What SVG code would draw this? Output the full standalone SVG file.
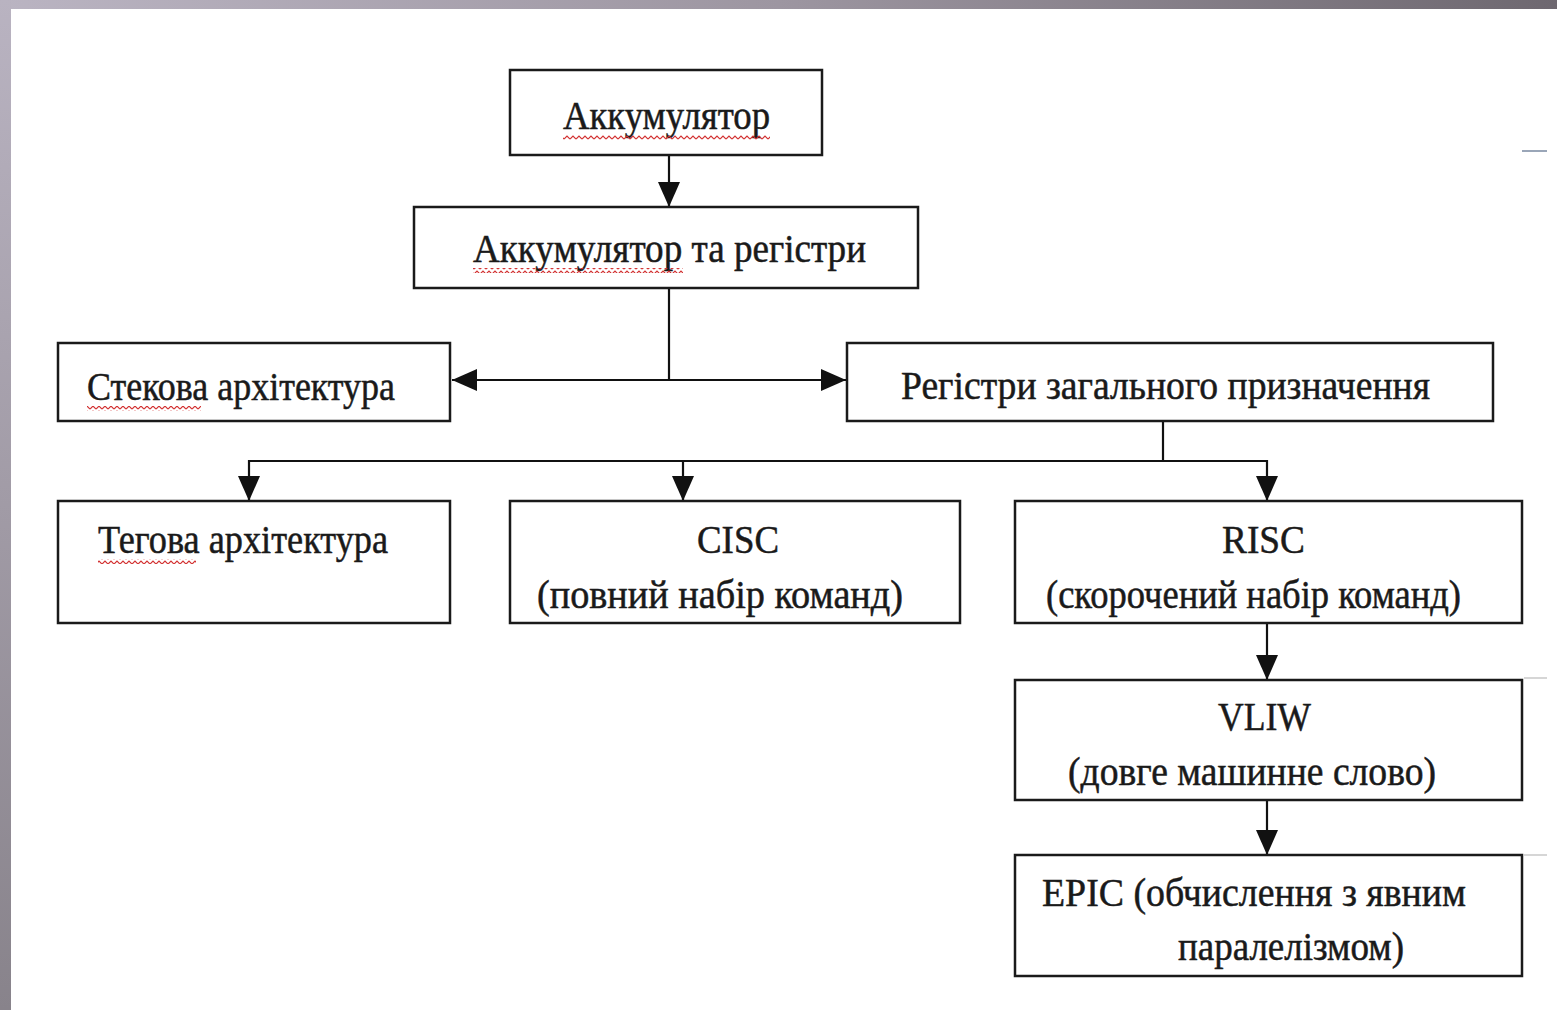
<svg xmlns="http://www.w3.org/2000/svg" width="1557" height="1010" viewBox="0 0 1557 1010">
  <defs>
    <linearGradient id="gTop" x1="0" y1="0" x2="1" y2="0">
      <stop offset="0" stop-color="#bab4c2"/>
      <stop offset="0.5" stop-color="#9d96a1"/>
      <stop offset="1" stop-color="#6e6870"/>
    </linearGradient>
    <linearGradient id="gLeft" x1="0" y1="0" x2="0" y2="1">
      <stop offset="0" stop-color="#b9b3c1"/>
      <stop offset="0.5" stop-color="#a19ba6"/>
      <stop offset="1" stop-color="#88838b"/>
    </linearGradient>
    <pattern id="wavePat" patternUnits="userSpaceOnUse" width="6" height="5">
      <path d="M0,4 L3,1 L6,4" fill="none" stroke="#d23030" stroke-width="1.2"/>
    </pattern>
    <marker id="arr" markerUnits="userSpaceOnUse" markerWidth="26" markerHeight="24" refX="25" refY="12" orient="auto">
      <path d="M0,1 L25,12 L0,23 Z" fill="#111"/>
    </marker>
    <style>
      .box { fill: #fff; stroke: #1a1a1a; stroke-width: 2.5; }
      .lbl { font-family: "Liberation Serif", "Times New Roman", serif; font-size: 39px; fill: #1a1a1a; stroke: #1a1a1a; stroke-width: 0.5; }
      .ln { fill: none; stroke: #111; stroke-width: 2.2; }
      .wave { fill: url(#wavePat); }
    </style>
  </defs>

  <rect x="0" y="0" width="1557" height="1010" fill="#fff"/>
  <rect x="0" y="0" width="1557" height="9" fill="url(#gTop)"/>
  <rect x="0" y="0" width="11" height="1010" fill="url(#gLeft)"/>
  <line x1="1522" y1="151" x2="1547" y2="151" stroke="#9aa6b8" stroke-width="2"/>
  <line x1="1524" y1="678" x2="1547" y2="678" stroke="#c8c8c8" stroke-width="1.5"/>
  <line x1="1524" y1="855" x2="1547" y2="855" stroke="#c8c8c8" stroke-width="1.5"/>

  <g id="connectors">
    <line class="ln" x1="669" y1="155" x2="669" y2="207" marker-end="url(#arr)"/>
    <line class="ln" x1="669" y1="288" x2="669" y2="380"/>
    <line class="ln" x1="669" y1="380" x2="452" y2="380" marker-end="url(#arr)"/>
    <line class="ln" x1="669" y1="380" x2="846" y2="380" marker-end="url(#arr)"/>
    <line class="ln" x1="1163" y1="421" x2="1163" y2="461"/>
    <polyline class="ln" points="249,461 1267,461"/>
    <line class="ln" x1="249" y1="460" x2="249" y2="501" marker-end="url(#arr)"/>
    <line class="ln" x1="683" y1="460" x2="683" y2="501" marker-end="url(#arr)"/>
    <line class="ln" x1="1267" y1="460" x2="1267" y2="501" marker-end="url(#arr)"/>
    <line class="ln" x1="1267" y1="623" x2="1267" y2="680" marker-end="url(#arr)"/>
    <line class="ln" x1="1267" y1="800" x2="1267" y2="855" marker-end="url(#arr)"/>
  </g>

  <g id="n-acc">
    <rect class="box" x="510" y="70" width="312" height="85"/>
    <text class="lbl" x="563" y="129" textLength="207" lengthAdjust="spacingAndGlyphs">Аккумулятор</text>
    <rect class="wave" x="563" y="135" width="207" height="5"/>
  </g>

  <g id="n-accreg">
    <rect class="box" x="414" y="207" width="504" height="81"/>
    <text class="lbl" x="473" y="262" textLength="393" lengthAdjust="spacingAndGlyphs">Аккумулятор та регістри</text>
    <rect class="wave" x="473" y="268" width="210" height="5"/>
  </g>

  <g id="n-stack">
    <rect class="box" x="58" y="343" width="392" height="78"/>
    <text class="lbl" x="87" y="400" textLength="308" lengthAdjust="spacingAndGlyphs">Стекова  архітектура</text>
    <rect class="wave" x="87" y="406" width="114" height="5"/>
  </g>

  <g id="n-gpr">
    <rect class="box" x="847" y="343" width="646" height="78"/>
    <text class="lbl" x="901" y="399" textLength="529" lengthAdjust="spacingAndGlyphs">Регістри загального  призначення</text>
  </g>

  <g id="n-tag">
    <rect class="box" x="58" y="501" width="392" height="122"/>
    <text class="lbl" x="98" y="553" textLength="290" lengthAdjust="spacingAndGlyphs">Тегова  архітектура</text>
    <rect class="wave" x="98" y="559" width="98" height="5"/>
  </g>

  <g id="n-cisc">
    <rect class="box" x="510" y="501" width="450" height="122"/>
    <text class="lbl" x="697" y="553" textLength="82" lengthAdjust="spacingAndGlyphs">CISC</text>
    <text class="lbl" x="537" y="608" textLength="366" lengthAdjust="spacingAndGlyphs">(повний набір команд)</text>
  </g>

  <g id="n-risc">
    <rect class="box" x="1015" y="501" width="507" height="122"/>
    <text class="lbl" x="1222" y="553" textLength="83" lengthAdjust="spacingAndGlyphs">RISC</text>
    <text class="lbl" x="1046" y="608" textLength="415" lengthAdjust="spacingAndGlyphs">(скорочений  набір  команд)</text>
  </g>

  <g id="n-vliw">
    <rect class="box" x="1015" y="680" width="507" height="120"/>
    <text class="lbl" x="1218" y="730" textLength="93" lengthAdjust="spacingAndGlyphs">VLIW</text>
    <text class="lbl" x="1068" y="785" textLength="368" lengthAdjust="spacingAndGlyphs">(довге машинне слово)</text>
  </g>

  <g id="n-epic">
    <rect class="box" x="1015" y="855" width="507" height="121"/>
    <text class="lbl" x="1042" y="906" textLength="424" lengthAdjust="spacingAndGlyphs">EPIC (обчислення з явним</text>
    <text class="lbl" x="1178" y="960" textLength="226" lengthAdjust="spacingAndGlyphs">паралелізмом)</text>
  </g>
</svg>
